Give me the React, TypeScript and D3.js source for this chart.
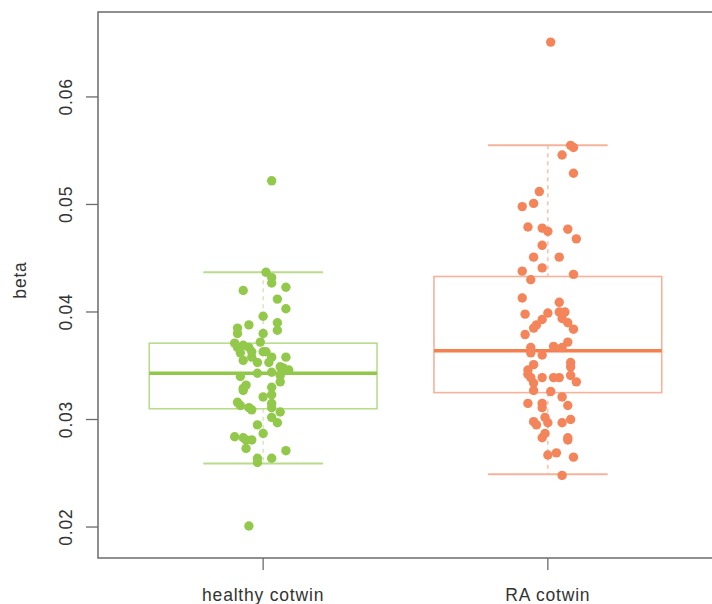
import React from "react";
import * as d3 from "d3";

const categories = ["healthy cotwin", "RA cotwin"];
const yTicks = [0.02, 0.03, 0.04, 0.05, 0.06];

// box statistics: [lowerWhisker, q1, median, q3, upperWhisker]
const healthyStats = [0.0259, 0.0310, 0.0343, 0.0371, 0.0437];
const raStats = [0.0249, 0.0325, 0.0364, 0.0433, 0.0555];

const healthyValues = [
  0.0437, 0.0432, 0.0427, 0.0420, 0.0423, 0.0412, 0.0403, 0.0396, 0.0390, 0.0383,
  0.0385, 0.0380, 0.0388, 0.0380, 0.0371, 0.0367, 0.0362, 0.0369, 0.0367, 0.0363,
  0.0358, 0.0372, 0.0363, 0.0363, 0.0358, 0.0358, 0.0355, 0.0353, 0.0353, 0.0349,
  0.0348, 0.0346, 0.0340, 0.0343, 0.0344, 0.0341, 0.0335, 0.0332, 0.0329, 0.0330,
  0.0327, 0.0321, 0.0323, 0.0315, 0.0311, 0.0316, 0.0313, 0.0311, 0.0309, 0.0307,
  0.0302, 0.0297, 0.0295, 0.0287, 0.0284, 0.0283, 0.0281, 0.0281, 0.0273, 0.0264,
  0.0260, 0.0264, 0.0271, 0.0522, 0.0201,
];
const healthyJitter = [
  0.01, 0.03, 0.03, -0.07, 0.08, 0.05, 0.08, 0.0, 0.05, 0.05,
  -0.09, -0.09, -0.05, 0.0, -0.1, -0.09, -0.08, -0.07, -0.05, -0.04,
  -0.04, -0.01, 0.0, 0.01, 0.03, 0.08, -0.07, -0.02, 0.02, 0.06,
  0.07, 0.09, -0.08, -0.02, 0.03, 0.06, 0.06, -0.06, -0.07, 0.03,
  -0.07, 0.0, 0.03, 0.03, 0.03, -0.09, -0.08, -0.05, -0.04, 0.06,
  0.03, 0.05, -0.02, 0.0, -0.1, -0.07, -0.06, -0.04, -0.06, -0.02,
  -0.02, 0.03, 0.08, 0.03, -0.05,
];

const raValues = [
  0.0651, 0.0555, 0.0553, 0.0546, 0.0529, 0.0512, 0.0498, 0.0501, 0.0479, 0.0478,
  0.0475, 0.0477, 0.0468, 0.0462, 0.0451, 0.0451, 0.0438, 0.0441, 0.0430, 0.0435,
  0.0413, 0.0409, 0.0398, 0.0399, 0.0393, 0.0388, 0.0385, 0.0400, 0.0400, 0.0394,
  0.0390, 0.0384, 0.0379, 0.0367, 0.0362, 0.0360, 0.0368, 0.0367, 0.0372, 0.0353,
  0.0349, 0.0351, 0.0346, 0.0342, 0.0339, 0.0334, 0.0339, 0.0339, 0.0339, 0.0341,
  0.0335, 0.0327, 0.0315, 0.0326, 0.0321, 0.0313, 0.0315, 0.0311, 0.0298, 0.0295,
  0.0302, 0.0297, 0.0297, 0.0300, 0.0287, 0.0283, 0.0281, 0.0283, 0.0267, 0.0269,
  0.0265, 0.0248,
];
const raJitter = [
  0.01, 0.08, 0.09, 0.05, 0.09, -0.03, -0.09, -0.05, -0.07, -0.02,
  0.0, 0.07, 0.1, -0.02, -0.05, 0.04, -0.09, -0.02, -0.06, 0.09,
  -0.09, 0.04, -0.08, 0.0, -0.02, -0.04, -0.05, 0.04, 0.06, 0.05,
  0.07, 0.09, -0.08, -0.06, -0.06, -0.02, 0.02, 0.05, 0.07, 0.08,
  0.08, -0.05, -0.07, -0.07, -0.06, -0.05, -0.02, 0.02, 0.04, 0.08,
  0.1, -0.05, -0.07, 0.01, 0.05, 0.07, -0.02, -0.02, -0.05, -0.04,
  -0.01, 0.0, 0.05, 0.08, -0.01, -0.02, 0.07, 0.07, 0.0, 0.03,
  0.09, 0.05,
];

const groups = [
  { name: categories[0], stats: healthyStats, values: healthyValues, jitter: healthyJitter,
    point: "#93c94b", box: "#b8dc8c", median: "#92c84a", dash: "#cfe4b4" },
  { name: categories[1], stats: raStats, values: raValues, jitter: raJitter,
    point: "#f4845a", box: "#f6b39b", median: "#f4804f", dash: "#f7b7a0" },
];

export default function App() {
  const W = 712, H = 604;
  const left = 98, right = 713, top = 12, bottom = 558;
  const x = d3.scaleLinear().domain([0.42, 2.58]).range([left, right]);
  const y = d3.scaleLinear().domain([0.01712, 0.0679]).range([bottom, top]);
  const font = "'Liberation Sans', Arial, sans-serif";
  const fs = 17.5;
  const ls = 0.8;
  const boxHalf = 0.4;
  const capHalf = 0.21;

  return (
    <svg width={W} height={H} style={{ position: "absolute", left: 0, top: 0 }}>
      <rect x={0} y={0} width={W} height={H} fill="#fff" />
      {groups.map((g, i) => {
        const cx = i + 1;
        const [lo, q1, med, q3, hi] = g.stats;
        return (
          <g key={g.name}>
            <line x1={x(cx)} x2={x(cx)} y1={y(hi)} y2={y(q3)} stroke={g.dash} strokeWidth={1.3} strokeDasharray="4,4" />
            <line x1={x(cx)} x2={x(cx)} y1={y(q1)} y2={y(lo)} stroke={g.dash} strokeWidth={1.3} strokeDasharray="4,4" />
            <line x1={x(cx - capHalf)} x2={x(cx + capHalf)} y1={y(hi)} y2={y(hi)} stroke={g.box} strokeWidth={2} />
            <line x1={x(cx - capHalf)} x2={x(cx + capHalf)} y1={y(lo)} y2={y(lo)} stroke={g.box} strokeWidth={2} />
            <rect x={x(cx - boxHalf)} y={y(q3)} width={x(cx + boxHalf) - x(cx - boxHalf)} height={y(q1) - y(q3)}
              fill="none" stroke={g.box} strokeWidth={1.6} />
            <line x1={x(cx - boxHalf)} x2={x(cx + boxHalf)} y1={y(med)} y2={y(med)} stroke={g.median} strokeWidth={3.5} />
            {g.values.map((v, j) => (
              <circle key={j} cx={x(cx + g.jitter[j])} cy={y(v)} r={4.7} fill={g.point} />
            ))}
          </g>
        );
      })}
      {/* frame */}
      <rect x={left} y={top} width={right - left} height={bottom - top} fill="none" stroke="#6b6b6b" strokeWidth={1.5} />
      {/* y axis */}
      {yTicks.map((t) => (
        <g key={t}>
          <line x1={left - 12} x2={left} y1={y(t)} y2={y(t)} stroke="#6b6b6b" strokeWidth={1.3} />
          <text transform={`translate(${72},${y(t)}) rotate(-90)`} textAnchor="middle" fontFamily={font}
            fontSize={fs} letterSpacing={ls} fill="#333">{t.toFixed(2)}</text>
        </g>
      ))}
      <text transform={`translate(${26},${280}) rotate(-90)`} textAnchor="middle" fontFamily={font}
        fontSize={fs} letterSpacing={ls} fill="#333">beta</text>
      {/* x axis */}
      {categories.map((c, i) => (
        <g key={c}>
          <line x1={x(i + 1)} x2={x(i + 1)} y1={bottom} y2={bottom + 12} stroke="#6b6b6b" strokeWidth={1.3} />
          <text x={x(i + 1)} y={601} textAnchor="middle" fontFamily={font} fontSize={fs} letterSpacing={ls} fill="#333">{c}</text>
        </g>
      ))}
    </svg>
  );
}
